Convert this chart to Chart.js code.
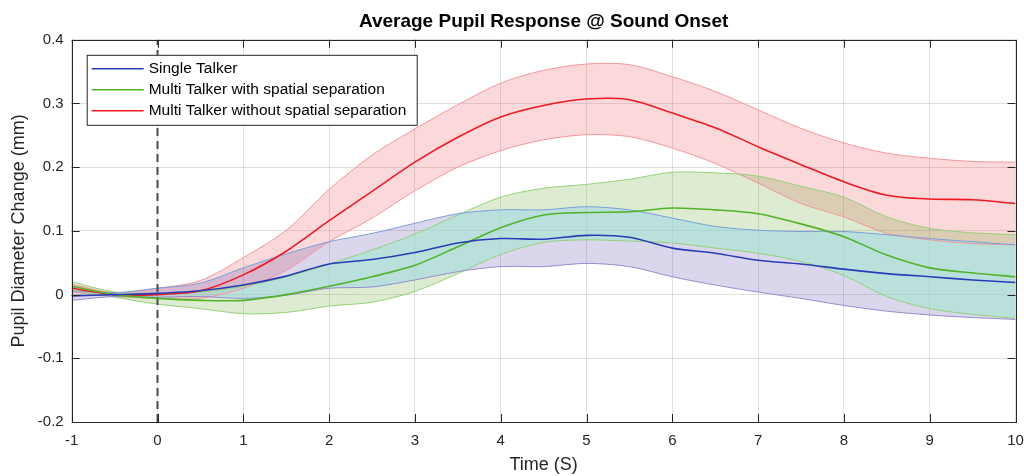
<!DOCTYPE html>
<html>
<head>
<meta charset="utf-8">
<title>Average Pupil Response @ Sound Onset</title>
<script src="https://cdn.jsdelivr.net/npm/chart.js@4.4.1/dist/chart.umd.min.js"></script>
<style>
  html, body { margin: 0; padding: 0; background: #fff; }
  #wrap { width: 1024px; height: 476px; }
</style>
</head>
<body>
<div id="wrap"><canvas id="pupilChart" width="1024" height="476"></canvas></div>
<script>
// time axis (s) and pupil diameter change (mm)
const time = [-1, -0.5, 0, 0.5, 1, 1.5, 2, 2.5, 3, 3.5, 4, 4.5, 5, 5.5, 6, 6.5, 7, 7.5, 8, 8.5, 9, 9.5, 10];

const singleMean  = [-0.002, 0.000, 0.002, 0.006, 0.015, 0.029, 0.048, 0.055, 0.066, 0.081, 0.088, 0.087, 0.093, 0.090, 0.073, 0.065, 0.054, 0.048, 0.040, 0.033, 0.028, 0.023, 0.019];
const singleUpper = [0.006, 0.003, 0.010, 0.018, 0.042, 0.064, 0.083, 0.096, 0.112, 0.127, 0.133, 0.133, 0.138, 0.133, 0.120, 0.107, 0.101, 0.099, 0.099, 0.094, 0.088, 0.083, 0.078];
const singleLower = [-0.009, -0.003, -0.004, -0.003, -0.006, -0.001, 0.010, 0.012, 0.023, 0.036, 0.044, 0.044, 0.049, 0.044, 0.028, 0.015, 0.004, -0.006, -0.017, -0.026, -0.032, -0.036, -0.039];

const spatialMean  = [0.013, 0.000, -0.006, -0.009, -0.009, 0.000, 0.013, 0.028, 0.046, 0.075, 0.105, 0.125, 0.129, 0.130, 0.136, 0.133, 0.127, 0.111, 0.091, 0.062, 0.042, 0.034, 0.028];
const spatialUpper = [0.020, 0.004, 0.002, 0.004, 0.013, 0.028, 0.048, 0.070, 0.095, 0.125, 0.153, 0.167, 0.173, 0.181, 0.192, 0.191, 0.186, 0.170, 0.153, 0.122, 0.104, 0.097, 0.094];
const spatialLower = [0.006, -0.004, -0.015, -0.022, -0.030, -0.028, -0.018, -0.012, 0.005, 0.033, 0.063, 0.082, 0.086, 0.084, 0.081, 0.073, 0.065, 0.052, 0.030, -0.003, -0.022, -0.031, -0.037];

const noSpatialMean  = [0.010, 0.000, 0.000, 0.006, 0.031, 0.068, 0.116, 0.162, 0.208, 0.247, 0.279, 0.297, 0.307, 0.306, 0.285, 0.262, 0.232, 0.204, 0.177, 0.156, 0.150, 0.149, 0.143];
const noSpatialUpper = [0.016, 0.003, 0.010, 0.022, 0.058, 0.101, 0.165, 0.219, 0.260, 0.298, 0.332, 0.352, 0.362, 0.361, 0.342, 0.319, 0.290, 0.261, 0.238, 0.222, 0.214, 0.209, 0.208];
const noSpatialLower = [0.004, -0.003, -0.006, -0.006, 0.010, 0.038, 0.083, 0.120, 0.163, 0.200, 0.226, 0.243, 0.251, 0.248, 0.230, 0.206, 0.175, 0.143, 0.122, 0.096, 0.086, 0.080, 0.078];

const onsetTime = [0, 0];
const onsetY = [-0.2, 0.4];

const seriesLabels = ['Single Talker', 'Multi Talker with spatial separation', 'Multi Talker without spatial separation'];

const FONT = "'Liberation Sans', Arial, sans-serif";
const AXIS_COLOR = '#262626';

const pts = arr => time.map((t, i) => ({ x: t, y: arr[i] }));

function meanLine(label, values, color) {
  return { label, data: pts(values), borderColor: color, borderWidth: 1.6, pointRadius: 0, fill: false, tension: 0.3, legendEntry: true };
}
function bandEdge(values, color, fillColor) {
  return {
    label: '', data: pts(values), borderColor: color, borderWidth: 1, pointRadius: 0, tension: 0.3,
    fill: fillColor ? '-1' : false, backgroundColor: fillColor || 'transparent'
  };
}

const datasets = [
  meanLine(seriesLabels[0], singleMean, 'rgb(40,60,185)'),
  meanLine(seriesLabels[1], spatialMean, 'rgb(80,180,40)'),
  meanLine(seriesLabels[2], noSpatialMean, 'rgb(240,25,35)'),
  {
    label: '', data: onsetTime.map((t, i) => ({ x: t, y: onsetY[i] })),
    borderColor: '#4a4a4a', borderWidth: 2, borderDash: [8, 5], pointRadius: 0, fill: false
  },
  bandEdge(singleLower, 'rgb(150,140,210)'),                              // 4
  bandEdge(singleUpper, 'rgb(120,160,220)', 'rgba(70,55,160,0.2)'),      // 5
  bandEdge(spatialLower, 'rgb(150,210,120)'),                             // 6
  bandEdge(spatialUpper, 'rgb(150,210,120)', 'rgba(100,165,40,0.22)'),   // 7
  bandEdge(noSpatialLower, 'rgb(245,150,155)'),                           // 8
  bandEdge(noSpatialUpper, 'rgb(245,150,155)', 'rgba(235,60,70,0.2)')    // 9
];

// trace a band (upper line forward, lower line backward) into the current path
function traceBand(ctx, chart, hiIdx, loIdx) {
  const hi = chart.getDatasetMeta(hiIdx).dataset;
  const lo = chart.getDatasetMeta(loIdx).dataset;
  ctx.beginPath();
  hi.segments.forEach(seg => hi.pathSegment(ctx, seg, { move: true }));
  lo.segments.slice().reverse().forEach(seg => lo.pathSegment(ctx, seg, { move: false, reverse: true }));
  ctx.closePath();
}

// where the single talker and spatial bands overlap, MATLAB shows a teal tone
const overlapTint = {
  id: 'overlapTint',
  beforeDatasetsDraw(chart) {
    const { ctx, chartArea: a } = chart;
    ctx.save();
    ctx.beginPath();
    ctx.rect(a.left, a.top, a.right - a.left, a.bottom - a.top);
    ctx.clip();
    traceBand(ctx, chart, 5, 4);
    ctx.clip();
    traceBand(ctx, chart, 7, 6);
    ctx.fillStyle = 'rgba(182,250,242,0.5)';
    ctx.fill();
    ctx.restore();
  }
};

// MATLAB style box: frame on all four sides with inward ticks
const boxFrame = {
  id: 'boxFrame',
  afterDatasetsDraw(chart) {
    const { ctx, chartArea: a, scales } = chart;
    const len = 8;
    ctx.save();
    ctx.strokeStyle = AXIS_COLOR;
    ctx.lineWidth = 1;
    ctx.beginPath();
    scales.x.ticks.forEach(t => {
      const px = Math.round(scales.x.getPixelForValue(t.value)) + 0.5;
      ctx.moveTo(px, a.bottom); ctx.lineTo(px, a.bottom - len);
      ctx.moveTo(px, a.top); ctx.lineTo(px, a.top + len);
    });
    scales.y.ticks.forEach(t => {
      const py = Math.round(scales.y.getPixelForValue(t.value)) + 0.5;
      ctx.moveTo(a.left, py); ctx.lineTo(a.left + len, py);
      ctx.moveTo(a.right, py); ctx.lineTo(a.right - len, py);
    });
    ctx.stroke();
    ctx.strokeRect(Math.round(a.left) + 0.5, Math.round(a.top) + 0.5, Math.round(a.right - a.left), Math.round(a.bottom - a.top));
    ctx.restore();
  }
};

// boxed legend inside the axes, top left
const boxLegend = {
  id: 'boxLegend',
  afterDraw(chart) {
    const { ctx, chartArea: a } = chart;
    const items = chart.data.datasets.filter(d => d.legendEntry);
    const x = a.left + 15, y = a.top + 15, w = 330, rowH = 21, h = rowH * items.length + 7;
    ctx.save();
    ctx.fillStyle = '#fff';
    ctx.fillRect(x, y, w, h);
    ctx.strokeStyle = AXIS_COLOR;
    ctx.lineWidth = 1;
    ctx.strokeRect(x + 0.5, y + 0.5, w, h);
    ctx.font = '15.5px ' + FONT;
    ctx.textBaseline = 'middle';
    items.forEach((d, i) => {
      const cy = y + 14 + i * rowH;
      ctx.strokeStyle = d.borderColor;
      ctx.lineWidth = 1.5;
      ctx.beginPath();
      ctx.moveTo(x + 5, cy); ctx.lineTo(x + 57, cy);
      ctx.stroke();
      ctx.fillStyle = '#000';
      ctx.fillText(d.label, x + 62, cy);
    });
    ctx.restore();
  }
};

new Chart(document.getElementById('pupilChart'), {
  type: 'line',
  data: { datasets },
  options: {
    responsive: false,
    animation: false,
    devicePixelRatio: 1,
    layout: { padding: { right: 0, top: 0, bottom: 0, left: 0 } },
    plugins: {
      legend: { display: false },
      tooltip: { enabled: false },
      filler: { drawTime: 'beforeDatasetsDraw' },
      title: {
        display: true,
        fullSize: false,
        text: 'Average Pupil Response @ Sound Onset',
        color: '#000',
        font: { family: FONT, size: 19, weight: 'bold' },
        padding: { top: 10, bottom: 7 }
      }
    },
    scales: {
      x: {
        type: 'linear',
        min: -1, max: 10,
        afterFit: s => { s.height = 54; s.paddingLeft = 0; s.paddingRight = 8.5; },
        ticks: { stepSize: 1, color: '#262626', font: { family: FONT, size: 15 }, padding: 10, maxRotation: 0 },
        grid: { color: 'rgba(0,0,0,0.12)', drawTicks: false },
        border: { display: false },
        title: { display: true, text: 'Time (S)', color: '#262626', font: { family: FONT, size: 18 }, padding: { top: 0, bottom: 0 } }
      },
      y: {
        min: -0.2, max: 0.4,
        afterFit: s => { s.width = 71.7; },
        ticks: {
          stepSize: 0.1, color: '#262626', font: { family: FONT, size: 15 }, padding: 8,
          callback: v => (Math.abs(v) < 1e-9 ? '0' : v.toFixed(1))
        },
        grid: { color: 'rgba(0,0,0,0.12)', drawTicks: false },
        border: { display: false },
        title: { display: true, text: 'Pupil Diameter Change (mm)', color: '#262626', font: { family: FONT, size: 18 }, padding: { top: 8, bottom: 0 } }
      }
    }
  },
  plugins: [overlapTint, boxFrame, boxLegend]
});
</script>
</body>
</html>
